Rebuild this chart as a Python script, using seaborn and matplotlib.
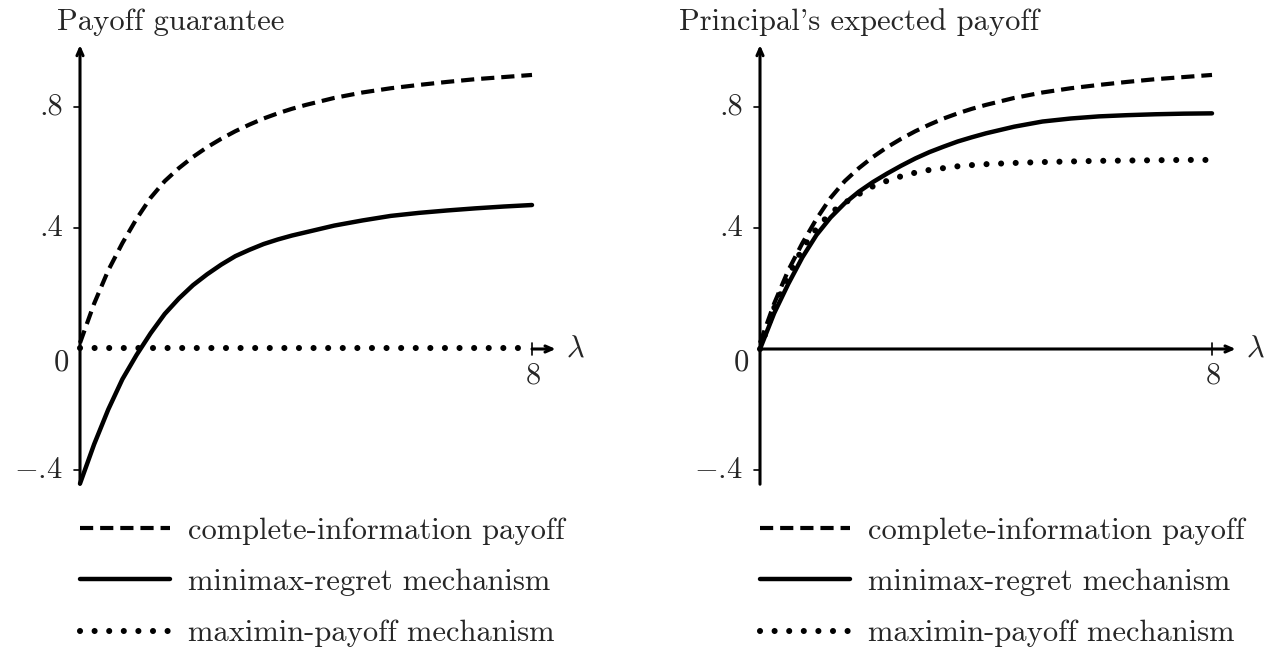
# two-panel payoff figure
import numpy as np
import pandas as pd
import matplotlib
matplotlib.use("Agg")
import matplotlib.pyplot as plt
import seaborn as sns

# data
lam = [0, 0.25, 0.5, 0.75, 1, 1.25, 1.5, 1.75, 2, 2.25, 2.5, 2.75, 3, 3.25, 3.5, 3.75, 4,
       4.5, 5, 5.5, 6, 6.5, 7, 7.5, 8]

complete_info = [0.02, 0.15, 0.26, 0.35, 0.43, 0.50, 0.555, 0.598, 0.635, 0.667, 0.695,
                 0.72, 0.742, 0.762, 0.779, 0.794, 0.807,
                 0.83, 0.848, 0.862, 0.873, 0.883, 0.892, 0.899, 0.906]

guarantee_regret = [-0.445, -0.315, -0.2, -0.1, -0.02, 0.052, 0.116, 0.167, 0.211, 0.247,
                    0.279, 0.307, 0.328, 0.347, 0.362, 0.375, 0.386,
                    0.408, 0.425, 0.44, 0.45, 0.458, 0.465, 0.471, 0.476]
guarantee_maximin = [0.003] * len(lam)

expected_regret = [0.0, 0.118, 0.215, 0.303, 0.377, 0.435, 0.482, 0.52, 0.552, 0.58,
                   0.606, 0.63, 0.651, 0.669, 0.686, 0.70, 0.713,
                   0.735, 0.752, 0.762, 0.769, 0.773, 0.776, 0.778, 0.779]
expected_maximin = [0.0, 0.135, 0.24, 0.332, 0.398, 0.45, 0.483, 0.512, 0.538, 0.556,
                    0.571, 0.583, 0.592, 0.598, 0.604, 0.608, 0.611,
                    0.615, 0.618, 0.62, 0.622, 0.623, 0.624, 0.625, 0.625]

titles = ["Payoff guarantee", "Principal's expected payoff"]
legend_labels = ["complete-information payoff", "minimax-regret mechanism",
                 "maximin-payoff mechanism"]
ytick_vals = [-0.4, 0.4, 0.8]
ytick_text = ["$-$.4", ".4", ".8"]

sns.set_style("white")
plt.rcParams["font.family"] = ["cmr10", "DejaVu Serif"]
plt.rcParams["mathtext.fontset"] = "cm"
plt.rcParams["axes.unicode_minus"] = False
plt.rcParams["lines.scale_dashes"] = False

W, H = 1270, 654
fig = plt.figure(figsize=(12.7, 6.54), dpi=100)

# pixel layout: origin of each panel, pixels per unit
sx, sy = 56.5, 302.5
origins = [(80, 349), (760, 349)]
xlim = (-1.6, 9.0)
ylim = (-0.62, 1.12)

dash = (0, (9.5, 5))
dot = (0, (0.01, 10.5))
fs = 22

panels = [
    (complete_info, guarantee_regret, guarantee_maximin),
    (complete_info, expected_regret, expected_maximin),
]

for i, (ox, oy) in enumerate(origins):
    left = ox + xlim[0] * sx
    width = (xlim[1] - xlim[0]) * sx
    top = oy - ylim[1] * sy
    height = (ylim[1] - ylim[0]) * sy
    ax = fig.add_axes([left / W, 1 - (top + height) / H, width / W, height / H])
    ax.set_xlim(*xlim)
    ax.set_ylim(*ylim)
    ax.axis("off")

    dashed_y, solid_y, dotted_y = panels[i]
    df = pd.DataFrame({"lam": lam, "dashed": dashed_y, "solid": solid_y, "dotted": dotted_y})

    sns.lineplot(data=df, x="lam", y="dashed", ax=ax, color="black", lw=3.0,
                 linestyle=dash, estimator=None, label=legend_labels[0])
    sns.lineplot(data=df, x="lam", y="solid", ax=ax, color="black", lw=3.2,
                 estimator=None, label=legend_labels[1])
    sns.lineplot(data=df, x="lam", y="dotted", ax=ax, color="black", lw=4.4,
                 linestyle=dot, dash_capstyle="round", estimator=None,
                 label=legend_labels[2])

    # axes with arrows
    arrow = dict(arrowstyle="->,head_length=0.5,head_width=0.22", lw=2.2,
                 color="black", shrinkA=0, shrinkB=0)
    ax.annotate("", xy=(0, 1.005), xytext=(0, -0.447), arrowprops=arrow,
                annotation_clip=False)
    x_start = 8 if i == 0 else 0
    ax.annotate("", xy=(8.42, 0), xytext=(x_start, 0), arrowprops=arrow,
                annotation_clip=False)

    # ticks and tick labels
    for v, t in zip(ytick_vals, ytick_text):
        ax.plot([-0.11, 0], [v, v], color="black", lw=1.2)
        ax.text(-0.3, v, t, ha="right", va="center", fontsize=fs)
    ax.text(-0.2, -0.045, "0", ha="right", va="center", fontsize=fs)
    ax.plot([8, 8], [-0.02, 0.02], color="black", lw=1.2)
    ax.text(8.03, -0.09, "8", ha="center", va="center", fontsize=fs)
    ax.text(8.6, 0.0, r"$\lambda$", ha="left", va="center", fontsize=fs)

    # panel title
    title_x = 1.6 if i == 0 else 1.75
    ax.text(title_x, 1.08, titles[i], ha="center", va="center", fontsize=fs)

    ax.legend(loc="upper left", bbox_to_anchor=(0, -0.557),
              bbox_transform=ax.transData, frameon=False, fontsize=fs,
              handlelength=2.95, handletextpad=0.59, labelspacing=0.775,
              borderpad=0, borderaxespad=0)

fig.savefig("out.png", dpi=100)
